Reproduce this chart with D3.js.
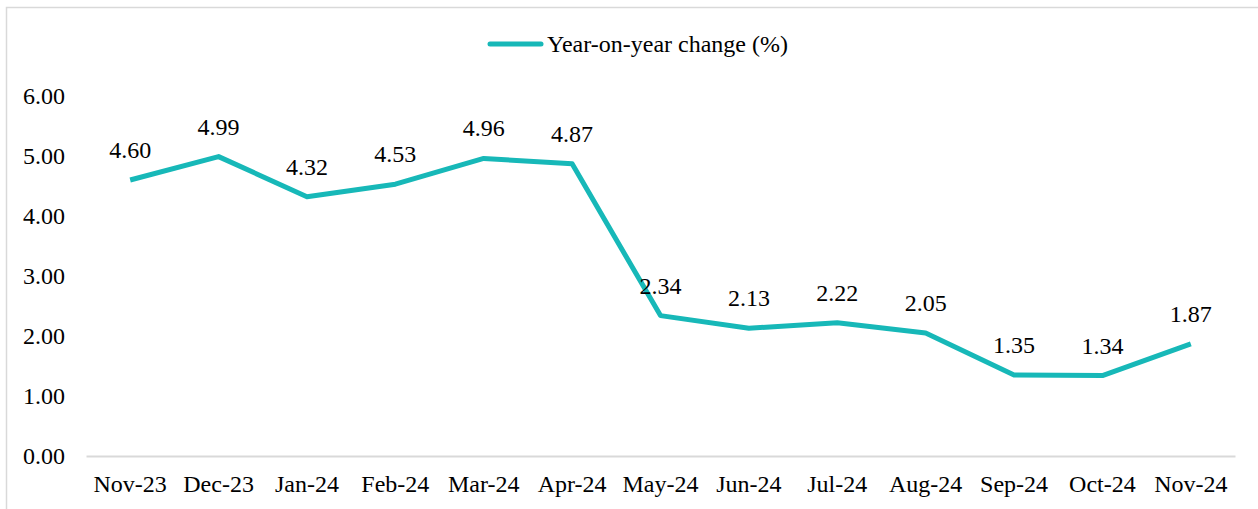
<!DOCTYPE html>
<html>
<head>
<meta charset="utf-8">
<script src="https://cdn.jsdelivr.net/npm/d3@7"></script>
<style>
  body { margin: 0; background: #fff; }
  text { font-family: "Liberation Serif", "Times New Roman", serif; fill: #000; }
</style>
</head>
<body>
<div id="chart"></div>
<script>
// chart values
var months = ["Nov-23", "Dec-23", "Jan-24", "Feb-24", "Mar-24", "Apr-24", "May-24",
              "Jun-24", "Jul-24", "Aug-24", "Sep-24", "Oct-24", "Nov-24"];
var yoyChange = [4.60, 4.99, 4.32, 4.53, 4.96, 4.87, 2.34, 2.13, 2.22, 2.05, 1.35, 1.34, 1.87];
var yTicks = [0, 1, 2, 3, 4, 5, 6];
var seriesName = "Year-on-year change (%)";

var W = 1258, H = 509;
var margin = {top: 96, right: 23, bottom: 53, left: 86};
var width = W - margin.left - margin.right;
var height = H - margin.top - margin.bottom;
var lineColor = "#17b8b8";
var fontSize = "24px";

var svg = d3.select("#chart").append("svg")
    .attr("width", W)
    .attr("height", H);

// outer frame (only top and left edges show in the picture)
svg.append("rect")
    .attr("x", 6.5).attr("y", 7.5)
    .attr("width", W + 20).attr("height", H + 20)
    .attr("fill", "none")
    .attr("stroke", "#d9d9d9")
    .attr("stroke-width", 1.5);

var g = svg.append("g")
    .attr("transform", "translate(" + margin.left + "," + margin.top + ")");

var x = d3.scaleBand().domain(months).range([0, width]);
var y = d3.scaleLinear().domain([0, 6]).range([height, 0]);

// y axis labels, no line
var yAxis = g.append("g")
    .call(d3.axisLeft(y).tickValues(yTicks).tickFormat(d3.format(".2f")).tickSize(0).tickPadding(21));
yAxis.select(".domain").remove();
yAxis.selectAll("text")
    .style("font-family", "Liberation Serif, Times New Roman, serif")
    .style("font-size", fontSize)
    .attr("fill", "#000");

// x axis
var xAxis = g.append("g")
    .attr("transform", "translate(0," + height + ")")
    .call(d3.axisBottom(x).tickSize(0).tickPadding(19));
xAxis.select(".domain").attr("stroke", "#d9d9d9").attr("stroke-width", 2);
xAxis.selectAll("text")
    .style("font-family", "Liberation Serif, Times New Roman, serif")
    .style("font-size", fontSize)
    .attr("fill", "#000");

var cx = function(d, i) { return x(months[i]) + x.bandwidth() / 2; };

var line = d3.line()
    .x(function(d, i) { return cx(d, i); })
    .y(function(d) { return y(d); });

g.append("path")
    .datum(yoyChange)
    .attr("d", line)
    .attr("fill", "none")
    .attr("stroke", lineColor)
    .attr("stroke-width", 5)
    .attr("stroke-linejoin", "round");

// data labels
g.selectAll(".lbl")
    .data(yoyChange)
    .enter().append("text")
    .attr("class", "lbl")
    .attr("x", cx)
    .attr("y", function(d) { return y(d) - 22; })
    .attr("text-anchor", "middle")
    .style("font-size", fontSize)
    .text(function(d) { return d.toFixed(2); });

// legend
var leg = svg.append("g").attr("transform", "translate(488,44)");
leg.append("line")
    .attr("x1", 2).attr("x2", 53)
    .attr("stroke", lineColor)
    .attr("stroke-width", 5)
    .attr("stroke-linecap", "round");
leg.append("text")
    .attr("x", 59).attr("y", 0)
    .attr("dy", "0.35em")
    .style("font-size", fontSize)
    .text(seriesName);
</script>
</body>
</html>
